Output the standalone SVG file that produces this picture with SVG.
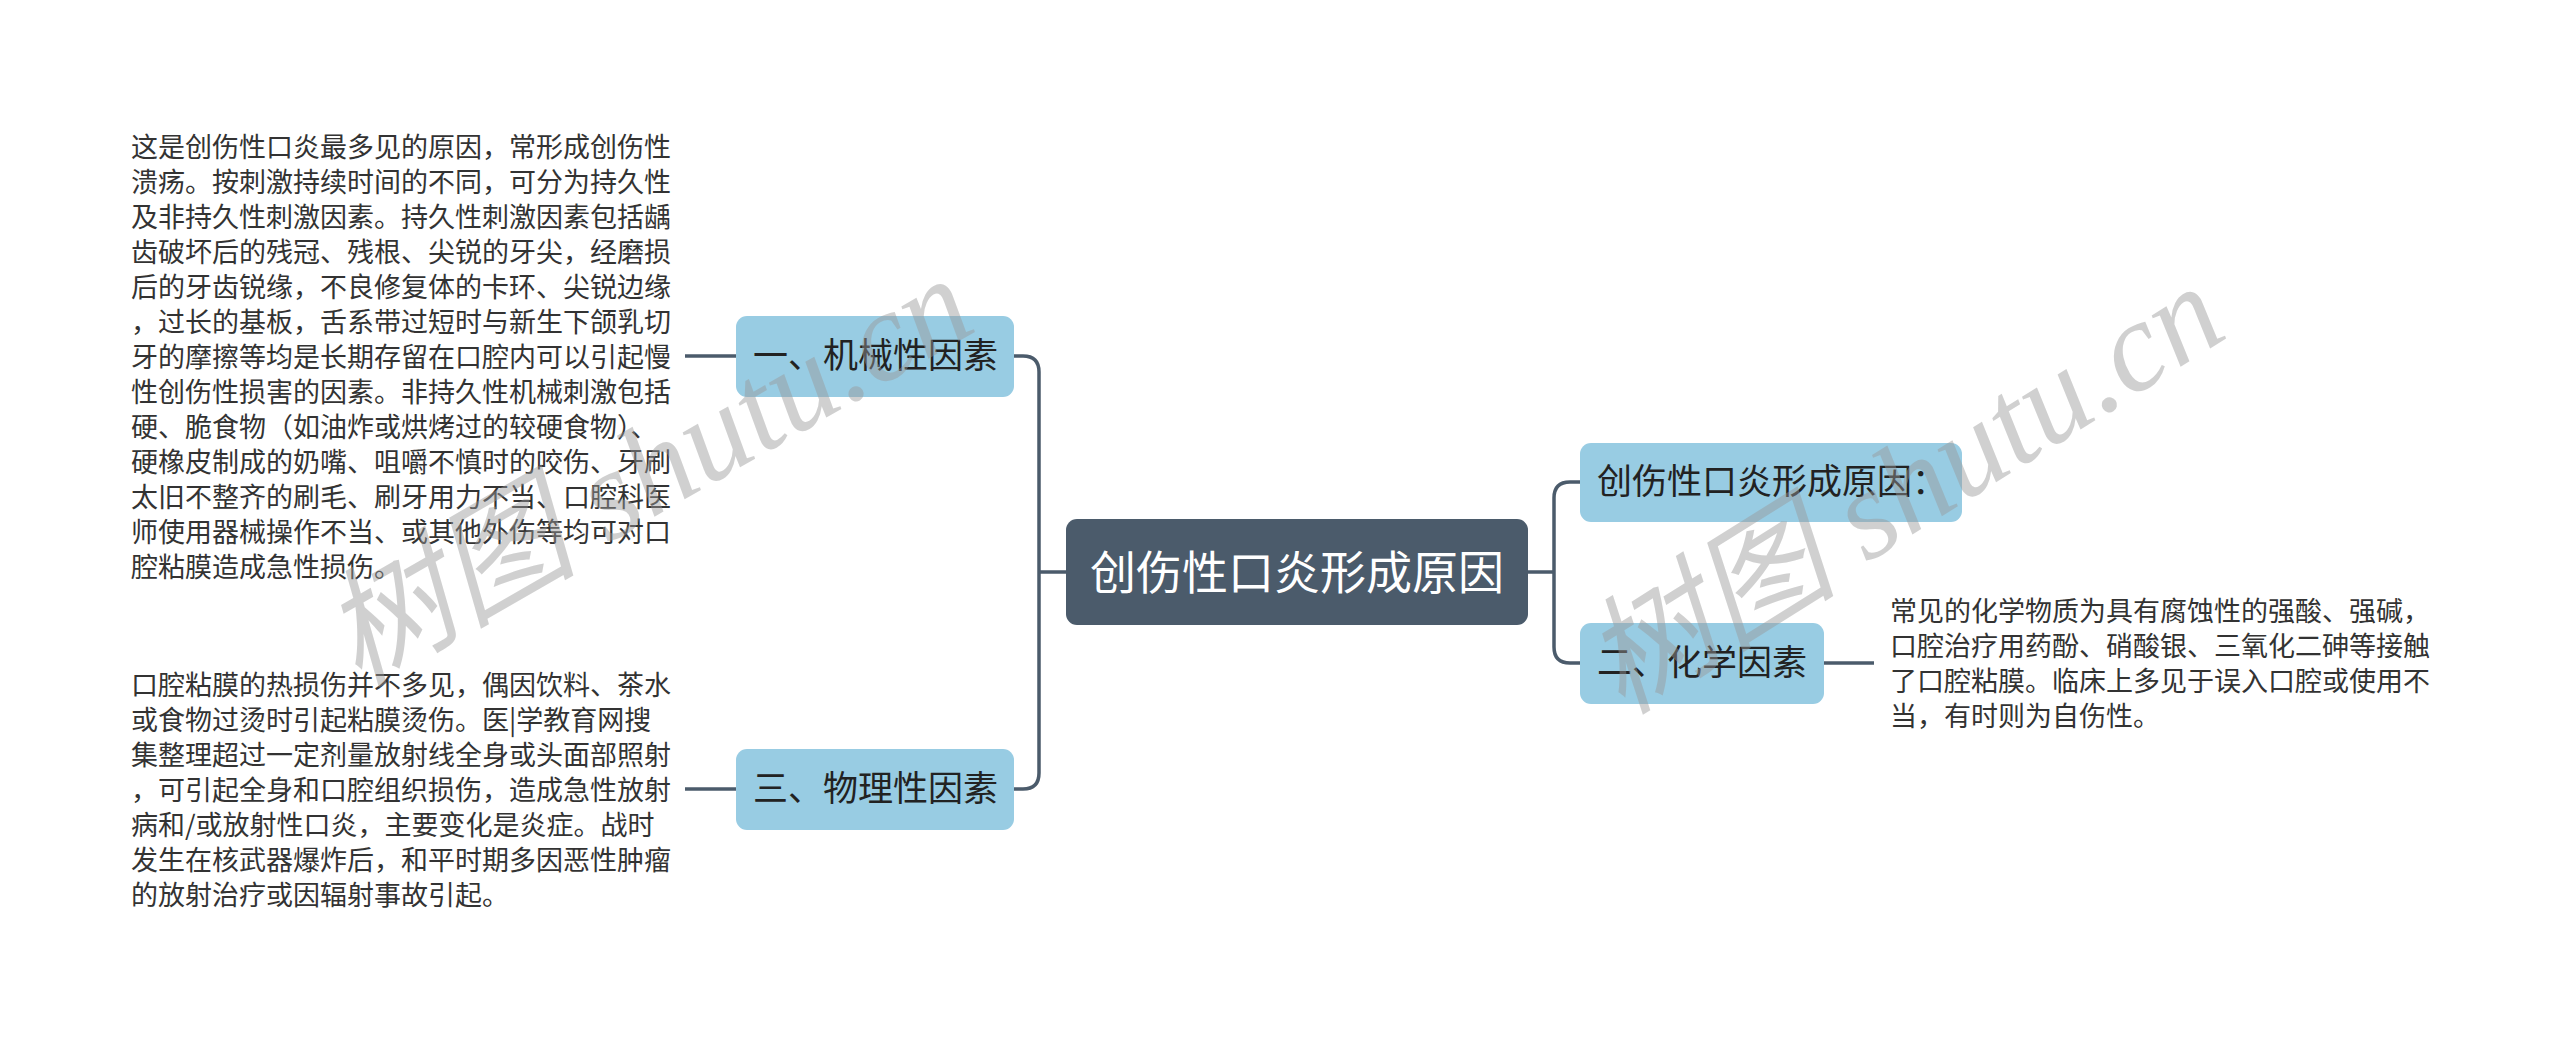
<svg xmlns="http://www.w3.org/2000/svg" width="2560" height="1042" viewBox="0 0 2560 1042">
<style>
.root rect{fill:#4b5b6b}
.root text{fill:#ffffff;font-family:"Noto Sans CJK SC","Noto Sans",sans-serif;font-size:46px}
.sub rect{fill:#98cce3}
.sub text{fill:#222222;font-family:"Noto Sans CJK SC","Noto Sans",sans-serif;font-size:35px}
.note text{fill:#333333;font-family:"Noto Sans CJK SC","Noto Sans",sans-serif;font-size:27px}
.conn{fill:none;stroke:#4b5b6b;stroke-width:3.5}
.wm{fill:#999999;opacity:0.45;font-family:"Liberation Serif","Noto Sans CJK SC",serif;font-style:italic;font-size:128px}
</style>
<rect width="2560" height="1042" fill="#ffffff"/>
<g id="connectors">
<path class="conn" d="M1066,572 H1039 M1014,356 H1023 Q1039,356 1039,372 V773 Q1039,789 1023,789 H1014"/>
<path class="conn" d="M1528,572 H1554 M1580,482 H1570 Q1554,482 1554,498 V647 Q1554,663 1570,663 H1580"/>
<path class="conn" d="M736,356 H685"/>
<path class="conn" d="M736,789 H685"/>
<path class="conn" d="M1824,663 H1874"/>
</g>
<g id="root" class="root">
<rect x="1066" y="519" width="462" height="106" rx="11"/>
<text x="1297" y="589" text-anchor="middle">创伤性口炎形成原因</text>
</g>
<g id="n1" class="sub">
<rect x="736" y="316" width="278" height="81" rx="11"/>
<text x="753" y="368">一、机械性因素</text>
</g>
<g id="n3" class="sub">
<rect x="736" y="749" width="278" height="81" rx="11"/>
<text x="753" y="801">三、物理性因素</text>
</g>
<g id="n0" class="sub">
<rect x="1580" y="443" width="382" height="79" rx="11"/>
<text x="1597" y="494">创伤性口炎形成原因：</text>
</g>
<g id="n2" class="sub">
<rect x="1580" y="623" width="244" height="81" rx="11"/>
<text x="1597" y="675">二、化学因素</text>
</g>
<g id="note1" class="note">
<text x="131" y="157">这是创伤性口炎最多见的原因，常形成创伤性</text>
<text x="131" y="192">溃疡。按刺激持续时间的不同，可分为持久性</text>
<text x="131" y="227">及非持久性刺激因素。持久性刺激因素包括龋</text>
<text x="131" y="262">齿破坏后的残冠、残根、尖锐的牙尖，经磨损</text>
<text x="131" y="297">后的牙齿锐缘，不良修复体的卡环、尖锐边缘</text>
<text x="131" y="332">，过长的基板，舌系带过短时与新生下颌乳切</text>
<text x="131" y="367">牙的摩擦等均是长期存留在口腔内可以引起慢</text>
<text x="131" y="402">性创伤性损害的因素。非持久性机械刺激包括</text>
<text x="131" y="437">硬、脆食物（如油炸或烘烤过的较硬食物）、</text>
<text x="131" y="472">硬橡皮制成的奶嘴、咀嚼不慎时的咬伤、牙刷</text>
<text x="131" y="507">太旧不整齐的刷毛、刷牙用力不当、口腔科医</text>
<text x="131" y="542">师使用器械操作不当、或其他外伤等均可对口</text>
<text x="131" y="577">腔粘膜造成急性损伤。</text>
</g>
<g id="note3" class="note">
<text x="131" y="695">口腔粘膜的热损伤并不多见，偶因饮料、茶水</text>
<text x="131" y="730">或食物过烫时引起粘膜烫伤。医|学教育网搜</text>
<text x="131" y="765">集整理超过一定剂量放射线全身或头面部照射</text>
<text x="131" y="800">，可引起全身和口腔组织损伤，造成急性放射</text>
<text x="131" y="835">病和/或放射性口炎，主要变化是炎症。战时</text>
<text x="131" y="870">发生在核武器爆炸后，和平时期多因恶性肿瘤</text>
<text x="131" y="905">的放射治疗或因辐射事故引起。</text>
</g>
<g id="note2" class="note">
<text x="1890" y="621">常见的化学物质为具有腐蚀性的强酸、强碱，</text>
<text x="1890" y="656">口腔治疗用药酚、硝酸银、三氧化二砷等接触</text>
<text x="1890" y="691">了口腔粘膜。临床上多见于误入口腔或使用不</text>
<text x="1890" y="726">当，有时则为自伤性。</text>
</g>
<g id="watermarks">
<text class="wm" transform="translate(358,688) rotate(-30)">树图 shutu.cn</text>
<text class="wm" transform="translate(1622,716) rotate(-32)">树图 shutu.cn</text>
</g>
</svg>
